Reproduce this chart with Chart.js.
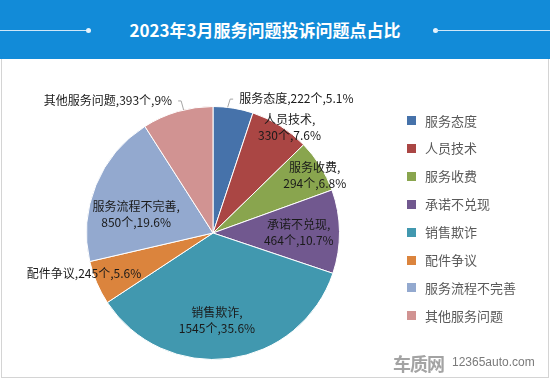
<!DOCTYPE html>
<html>
<head>
<meta charset="utf-8">
<script src="https://cdn.jsdelivr.net/npm/chart.js@4"></script>
<style>
  body { margin: 0; width: 550px; height: 380px; overflow: hidden; background: #fff; position: relative; font-family: "Noto Sans CJK SC", sans-serif; }
  #header { position: absolute; left: 0; top: 0; width: 550px; height: 59px; background: #128bd8; }
  #title { position: absolute; left: 0; top: 0; width: 530px; height: 60px; line-height: 60px; text-align: center; color: #fff; font-size: 17px; font-weight: bold; }
  .hline { position: absolute; top: 30px; height: 1px; background: #cfe7f8; }
  .hdot { position: absolute; top: 28px; width: 5px; height: 5px; border-radius: 50%; background: #e6f3fc; }
  #panel { position: absolute; left: 1px; top: 59px; width: 548px; height: 319px; box-sizing: border-box; border: 1px solid #d4d4d4; border-top: none; }
  #chart { position: absolute; left: 0; top: 59px; }
  #legend { position: absolute; left: 0; top: 0; }
  .lg-box { position: absolute; width: 9px; height: 9px; }
  .lg-text { position: absolute; height: 16px; line-height: 16px; font-size: 13px; color: #595959; white-space: nowrap; }
  #logo { position: absolute; left: 393px; top: 350px; font-size: 18px; font-weight: bold; color: #a3a3a3; letter-spacing: -1px; }
  #site { position: absolute; left: 452px; top: 355px; font-size: 12px; color: #7a7a7a; font-family: "Liberation Sans", sans-serif; }
</style>
</head>
<body>
<div id="header">
  <div class="hline" style="left:0;width:88px"></div>
  <div class="hdot" style="left:86px"></div>
  <div class="hdot" style="left:433px"></div>
  <div class="hline" style="left:436px;width:114px"></div>
  <div id="title">2023年3月服务问题投诉问题点占比</div>
</div>
<div id="panel"></div>
<canvas id="chart" width="550" height="321"></canvas>
<div id="legend"></div>
<div id="logo">车质网</div>
<div id="site">12365auto.com</div>
<script>
const categories = ["服务态度", "人员技术", "服务收费", "承诺不兑现", "销售欺诈", "配件争议", "服务流程不完善", "其他服务问题"];
const counts = [222, 330, 294, 464, 1545, 245, 850, 393];
const colors = ["#4672aa", "#aa4644", "#89a54e", "#71588f", "#4198af", "#db843d", "#93a9cf", "#d19392"];

// label placement: distance (x radius) and turn (deg) from each slice's middle
const labelDist = [1.25, 1.03, 0.926, 0.678, 0.695, 1.068, 0.626, 1.337];
const labelTurn = [22.6, 3.9, 2.4, 0.6, 4.8, 5.9, -8.4, -22.1];
const twoLine = [false, true, true, true, true, false, true, false];
const hasLeader = [true, false, false, false, false, false, false, true];

// legend
const legend = document.getElementById("legend");
categories.forEach((name, i) => {
  const cy = 120.5 + i * 27.9;
  const box = document.createElement("div");
  box.className = "lg-box";
  box.style.left = "407px";
  box.style.top = (cy - 4.5) + "px";
  box.style.background = colors[i];
  const txt = document.createElement("div");
  txt.className = "lg-text";
  txt.style.left = "425px";
  txt.style.top = (cy - 8) + "px";
  txt.textContent = name;
  legend.appendChild(box);
  legend.appendChild(txt);
});

const sliceLabels = {
  id: "sliceLabels",
  afterDatasetsDraw(chart) {
    const ctx = chart.ctx;
    const meta = chart.getDatasetMeta(0);
    const total = counts.reduce((a, b) => a + b, 0);
    ctx.save();
    ctx.font = "12px 'Noto Sans CJK SC'";
    ctx.textAlign = "center";
    ctx.textBaseline = "middle";
    meta.data.forEach((arc, i) => {
      const p = arc.getProps(["x", "y", "startAngle", "endAngle", "outerRadius"], true);
      const mid = (p.startAngle + p.endAngle) / 2;
      const a = mid + labelTurn[i] * Math.PI / 180;
      const r = p.outerRadius * labelDist[i];
      const lx = p.x + Math.cos(a) * r;
      const ly = p.y + Math.sin(a) * r;
      const pct = parseFloat((counts[i] / total * 100).toFixed(1));
      const head = categories[i] + ",";
      const tail = counts[i] + "个," + pct + "%";
      ctx.fillStyle = "#1a1a1a";
      if (twoLine[i]) {
        ctx.fillText(head, lx, ly - 8);
        ctx.fillText(tail, lx, ly + 8);
      } else {
        ctx.fillText(head + tail, lx, ly);
      }
      if (hasLeader[i]) {
        const w = ctx.measureText(head + tail).width;
        const dir = lx > p.x ? 1 : -1;
        const edge = lx - dir * w / 2;
        const tickEnd = edge - dir * 6;
        const knee = tickEnd - dir * 3;
        const sx = knee - dir * 2.5;
        const sy = p.y - Math.sqrt(p.outerRadius * p.outerRadius - (sx - p.x) * (sx - p.x));
        ctx.strokeStyle = "#a6a6a6";
        ctx.lineWidth = 1;
        ctx.beginPath();
        ctx.moveTo(sx, sy);
        ctx.lineTo(knee, ly + 0.5);
        ctx.lineTo(tickEnd, ly + 0.5);
        ctx.stroke();
      }
    });
    ctx.restore();
  }
};

new Chart(document.getElementById("chart").getContext("2d"), {
  type: "pie",
  data: {
    labels: categories,
    datasets: [{
      data: counts,
      backgroundColor: colors,
      borderColor: "#ffffff",
      borderWidth: 1,
    }],
  },
  options: {
    responsive: false,
    animation: false,
    devicePixelRatio: 1,
    layout: { padding: { left: 34, right: 158, top: 47, bottom: 20 } },
    plugins: {
      legend: { display: false },
      tooltip: { enabled: false },
    },
  },
  plugins: [sliceLabels],
});
</script>
</body>
</html>
